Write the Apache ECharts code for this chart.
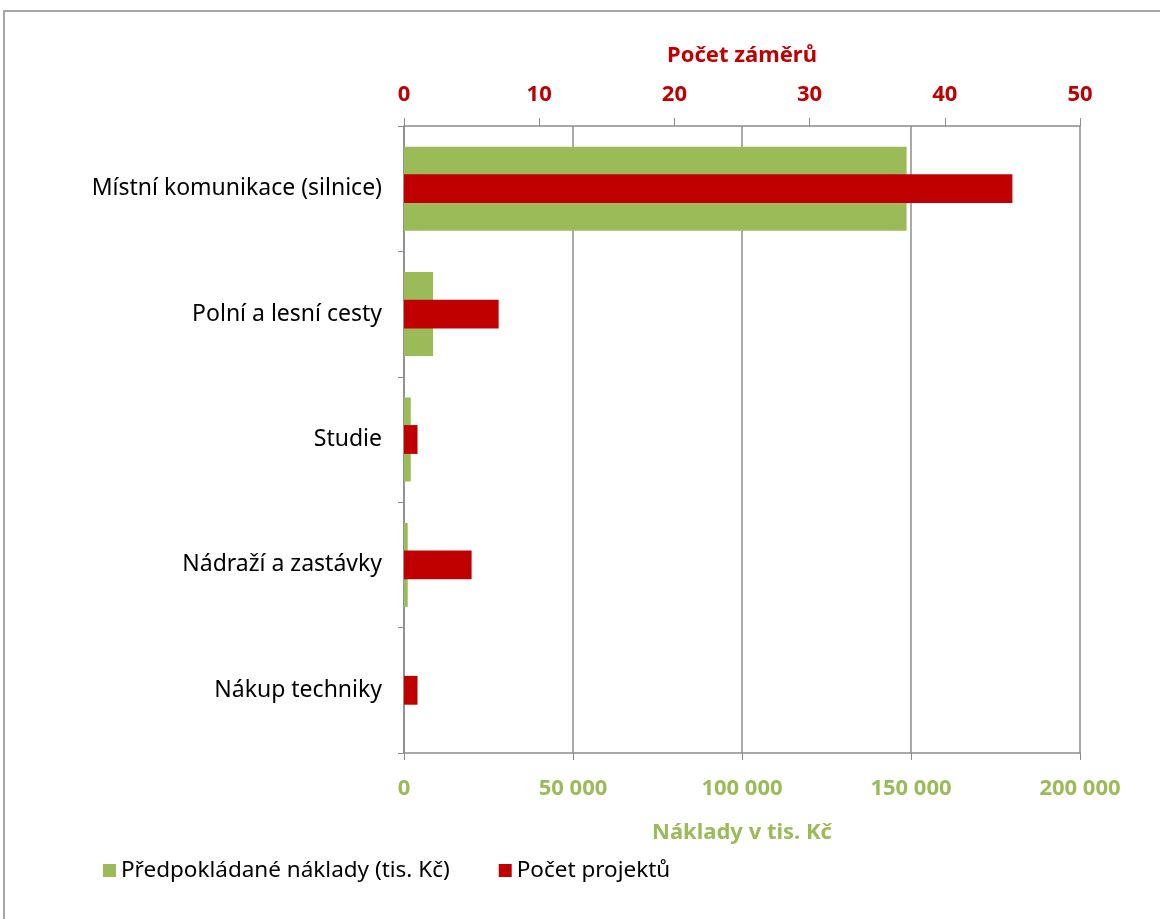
<!DOCTYPE html>
<html>
<head>
<meta charset="utf-8">
<script src="https://cdn.jsdelivr.net/npm/echarts@6/dist/echarts.min.js"></script>
<style>
html,body{margin:0;padding:0;background:#fff;overflow:hidden;}
#frame{position:absolute;left:3px;top:10px;width:1180px;height:960px;border:2px solid #a6a6a6;box-sizing:border-box;}
#chart{position:absolute;left:0;top:0;width:1160px;height:919px;}
</style>
</head>
<body>
<div id="frame"></div>
<div id="chart"></div>
<script>
const categories = ['Místní komunikace (silnice)', 'Polní a lesní cesty', 'Studie', 'Nádraží a zastávky', 'Nákup techniky'];
const costValues = [148700, 8600, 2000, 1100, 0];
const projectCounts = [45, 7, 1, 5, 1];
const costTicks = [0, 50000, 100000, 150000, 200000];
const countTicks = [0, 10, 20, 30, 40, 50];

const GREEN = '#9bbb59', RED = '#c00000', GREY = '#8c8c8c';
const FONT = 'Noto Sans';
const fmt = v => String(v).replace(/\B(?=(\d{3})+(?!\d))/g, ' ');

const chart = echarts.init(document.getElementById('chart'));
chart.setOption({
  animation: false,
  textStyle: {fontFamily: FONT},
  grid: {left: 404, right: 80, top: 126, bottom: 166, containLabel: false},
  legend: {
    left: 98, top: 854, itemWidth: 13, itemHeight: 13, itemGap: 49, icon: 'rect',
    textStyle: {fontFamily: FONT, fontSize: 22.5, color: '#000'},
    data: ['Předpokládané náklady (tis. Kč)', 'Počet projektů']
  },
  xAxis: [
    {
      type: 'value', position: 'bottom', min: costTicks[0], max: costTicks[costTicks.length - 1], interval: 50000,
      name: 'Náklady v tis. Kč', nameLocation: 'middle', nameGap: 69,
      nameTextStyle: {color: GREEN, fontWeight: 'bold', fontSize: 22, fontFamily: FONT},
      axisLine: {show: true, lineStyle: {color: GREY, width: 1.5}},
      axisTick: {show: true, length: 7, lineStyle: {color: GREY}},
      axisLabel: {color: GREEN, fontWeight: 'bold', fontSize: 22, margin: 25, formatter: fmt},
      splitLine: {show: true, lineStyle: {color: GREY, width: 1.5}}
    },
    {
      type: 'value', position: 'top', min: countTicks[0], max: countTicks[countTicks.length - 1], interval: 10,
      name: 'Počet záměrů', nameLocation: 'middle', nameGap: 59,
      nameTextStyle: {color: RED, fontWeight: 'bold', fontSize: 22, fontFamily: FONT},
      axisLine: {show: true, lineStyle: {color: GREY, width: 1.5}},
      axisTick: {show: true, length: 8, lineStyle: {color: GREY}},
      axisLabel: {color: RED, fontWeight: 'bold', fontSize: 22, margin: 20},
      splitLine: {show: false}
    }
  ],
  yAxis: [
    {
      type: 'category', data: categories, inverse: true,
      axisLine: {show: true, lineStyle: {color: GREY, width: 1.5}},
      axisTick: {show: true, length: 6, lineStyle: {color: GREY}},
      axisLabel: {color: '#000', fontSize: 23, margin: 22, fontFamily: FONT},
      splitLine: {show: false}
    },
    {
      type: 'category', data: categories, inverse: true, show: false
    }
  ],
  series: [
    {
      name: 'Předpokládané náklady (tis. Kč)', type: 'bar', xAxisIndex: 0, yAxisIndex: 0,
      data: costValues, barWidth: '67%', itemStyle: {color: GREEN}
    },
    {
      name: 'Počet projektů', type: 'bar', xAxisIndex: 1, yAxisIndex: 1,
      data: projectCounts, barWidth: '23%', itemStyle: {color: RED}
    }
  ]
});
</script>
</body>
</html>
